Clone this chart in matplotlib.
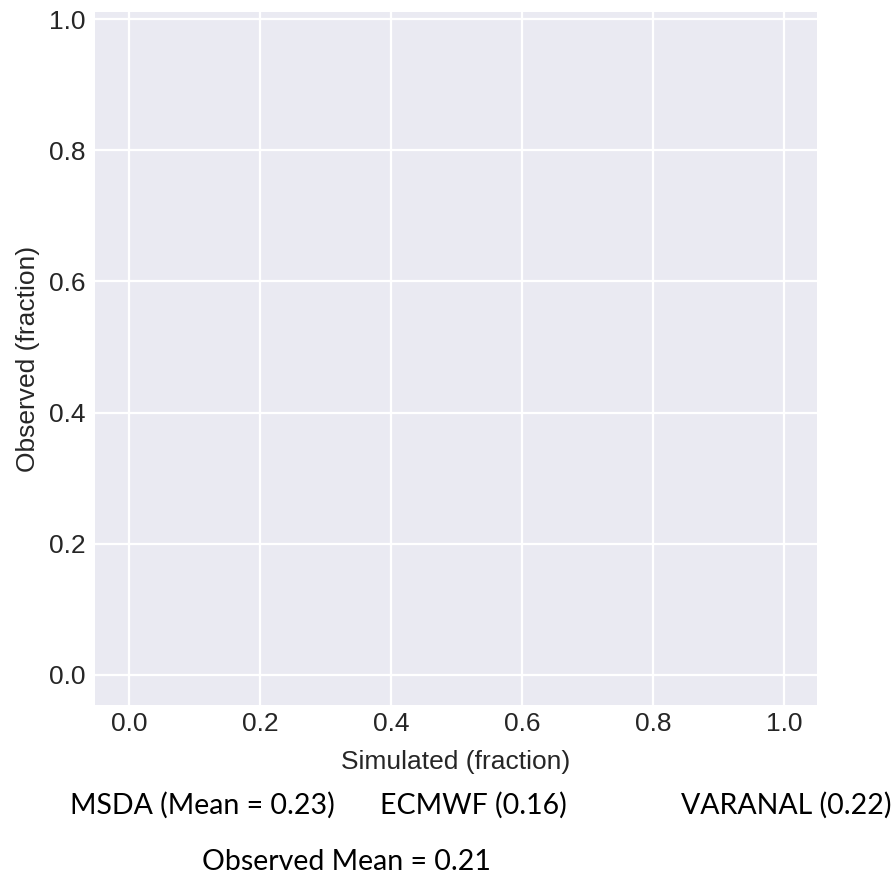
import matplotlib
matplotlib.use("Agg")
import matplotlib.pyplot as plt
import seaborn as sns

sns.set_style("darkgrid")
plt.rcParams['font.family'] = ['Liberation Sans', 'DejaVu Sans']

# Data
model_labels = ["MSDA (Mean = 0.23)", "ECMWF (0.16)", "VARANAL (0.22)"]
observed_label = "Observed Mean = 0.21"
x_ticks = [0.0, 0.2, 0.4, 0.6, 0.8, 1.0]
y_ticks = [0.0, 0.2, 0.4, 0.6, 0.8, 1.0]

fig = plt.figure(figsize=(8.95, 8.77), dpi=100)
ax = fig.add_axes([0.1061, 0.1961, 0.8064, 0.7902])
ax.set_facecolor("#EAEAF2")
ax.set_xlim(-0.052, 1.05)
ax.set_ylim(-0.046, 1.011)
ax.set_xticks(x_ticks)
ax.set_yticks(y_ticks)
ax.set_xticklabels([f"{v:.1f}" for v in x_ticks])
ax.set_yticklabels([f"{v:.1f}" for v in y_ticks])
ax.tick_params(axis='both', labelsize=19, colors='#262626', length=0)
ax.tick_params(axis='x', pad=5)
ax.tick_params(axis='y', pad=7)
ax.grid(True, color='white', linewidth=1.6)
for s in ax.spines.values():
    s.set_visible(False)
ax.set_xlabel("Simulated (fraction)", fontsize=19, color='#262626', labelpad=10)
ax.set_ylabel("Observed (fraction)", fontsize=19, color='#262626', labelpad=6)

label_x = [202, 473, 786]
for lbl, xp in zip(model_labels, label_x):
    fig.text(xp / 895, 1 - 805 / 877, lbl, ha='center', va='center',
             fontsize=20.5, family=['Lato', 'DejaVu Sans'], color='black')
fig.text(346 / 895, 1 - 862 / 877, observed_label, ha='center', va='center',
         fontsize=20.5, family=['Lato', 'DejaVu Sans'], color='black')

fig.savefig("out.png", dpi=100)
